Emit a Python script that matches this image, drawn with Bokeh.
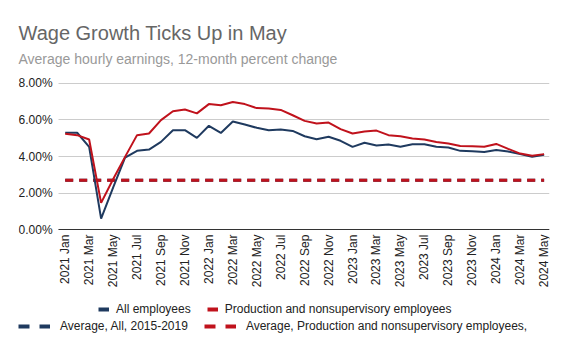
import math
from bokeh.plotting import figure
from bokeh.models import (ColumnDataSource, FixedTicker, PrintfTickFormatter,
                          Legend, LegendItem, Title, Range1d)
from bokeh.embed import file_html
from bokeh.resources import INLINE

months = ["2021 Jan", "2021 Feb", "2021 Mar", "2021 Apr", "2021 May", "2021 Jun",
          "2021 Jul", "2021 Aug", "2021 Sep", "2021 Oct", "2021 Nov", "2021 Dec",
          "2022 Jan", "2022 Feb", "2022 Mar", "2022 Apr", "2022 May", "2022 Jun",
          "2022 Jul", "2022 Aug", "2022 Sep", "2022 Oct", "2022 Nov", "2022 Dec",
          "2023 Jan", "2023 Feb", "2023 Mar", "2023 Apr", "2023 May", "2023 Jun",
          "2023 Jul", "2023 Aug", "2023 Sep", "2023 Oct", "2023 Nov", "2023 Dec",
          "2024 Jan", "2024 Feb", "2024 Mar", "2024 Apr", "2024 May"]

all_employees = [5.30, 5.30, 4.53, 0.60, 2.30, 3.94, 4.31, 4.38, 4.80, 5.44,
                 5.44, 5.02, 5.68, 5.29, 5.92, 5.75, 5.57, 5.44, 5.48, 5.40,
                 5.11, 4.95, 5.08, 4.86, 4.53, 4.75, 4.60, 4.66, 4.53, 4.67,
                 4.67, 4.53, 4.49, 4.31, 4.29, 4.25, 4.36, 4.27, 4.13, 3.98,
                 4.09]

production = [5.24, 5.17, 4.93, 1.46, 2.75, 3.98, 5.17, 5.26, 5.99, 6.48,
              6.57, 6.36, 6.87, 6.81, 6.98, 6.87, 6.65, 6.63, 6.55, 6.26,
              5.95, 5.81, 5.86, 5.50, 5.26, 5.37, 5.42, 5.17, 5.11, 4.99,
              4.93, 4.80, 4.71, 4.58, 4.56, 4.53, 4.69, 4.42, 4.16, 4.04,
              4.13]

avg_all_2015_2019 = 2.70
avg_prod_2015_2019 = 2.70

y_ticks = [0, 2, 4, 6, 8]

BLUE = "#1f3a5f"
RED = "#c0121c"
FONT = "Liberation Sans"

X0, X1 = -0.55, 40.45          # extent of the chart area along x
idx = list(range(len(months)))
src = ColumnDataSource(dict(
    x=idx,
    all=all_employees,
    prod=production,
    avg_all=[avg_all_2015_2019] * len(idx),
    avg_prod=[avg_prod_2015_2019] * len(idx),
))

# frame spans the whole lower area so legends (inside frame) are not clipped;
# the axes are drawn at fixed locations
p = figure(width=567, height=350, output_backend="svg", toolbar_location=None,
           x_range=Range1d(-3.9, X1), y_range=Range1d(-6.46, 8.71),
           min_border_left=18, min_border_right=18, min_border_top=70,
           min_border_bottom=3)
p.outline_line_color = None
p.background_fill_color = "white"
p.border_fill_color = "white"

# grid
p.xgrid.visible = False
grid = p.ygrid[0]
if "cross_bounds" in grid.properties():
    grid.cross_bounds = (X0, X1)
    grid.grid_line_color = "#cccccc"
    grid.grid_line_width = 1
else:
    grid.visible = False
    p.segment(x0=[X0] * len(y_ticks), x1=[X1] * len(y_ticks), y0=y_ticks, y1=y_ticks,
              line_color="#cccccc", line_width=1, level="underlay")

# y axis
p.yaxis.fixed_location = X0
p.yaxis.ticker = FixedTicker(ticks=y_ticks)
p.yaxis.formatter = PrintfTickFormatter(format="%.2f%%")
p.yaxis.axis_line_color = None
p.yaxis.major_tick_line_color = None
p.yaxis.minor_tick_line_color = None
p.yaxis.major_tick_out = 0
p.yaxis.major_tick_in = 0
p.yaxis.major_label_standoff = 6
p.yaxis.major_label_text_font = FONT
p.yaxis.major_label_text_font_size = "12px"
p.yaxis.major_label_text_color = "#222222"

# x axis
p.xaxis.fixed_location = 0
p.xaxis.bounds = (X0, X1)
p.xaxis.ticker = FixedTicker(ticks=idx[::2])
p.xaxis.major_label_overrides = {i: months[i] for i in idx[::2]}
p.xaxis.major_label_orientation = math.pi / 2
p.xaxis.axis_line_color = "#333333"
p.xaxis.axis_line_width = 1
p.xaxis.major_tick_line_color = None
p.xaxis.minor_tick_line_color = None
p.xaxis.major_tick_out = 0
p.xaxis.major_tick_in = 0
p.xaxis.major_label_standoff = 5
p.xaxis.major_label_text_font = FONT
p.xaxis.major_label_text_font_size = "12px"
p.xaxis.major_label_text_color = "#222222"

# lines
p.line("x", "avg_all", source=src, line_color=BLUE, line_width=3, line_dash="8 6")
p.line("x", "avg_prod", source=src, line_color=RED, line_width=3, line_dash="8 6")
p.line("x", "all", source=src, line_color=BLUE, line_width=2)
p.line("x", "prod", source=src, line_color=RED, line_width=2)

# legend proxy renderers (single point -> nothing drawn in the plot)
one = ColumnDataSource(dict(x=[0], y=[all_employees[0]]))
l1 = p.line("x", "y", source=one, line_color=BLUE, line_width=4)
l2 = p.line("x", "y", source=one, line_color=RED, line_width=4)
l3 = p.line("x", "y", source=one, line_color=BLUE, line_width=4, line_dash="11 10")
l4 = p.line("x", "y", source=one, line_color=RED, line_width=4, line_dash="11 10")

def style_legend(lg, gw, so):
    lg.orientation = "horizontal"
    lg.border_line_color = None
    lg.background_fill_alpha = 0
    lg.label_text_font = FONT
    lg.label_text_font_size = "12px"
    lg.label_text_color = "#222222"
    lg.glyph_width = gw
    lg.glyph_height = 14
    lg.label_height = 14
    lg.label_standoff = so
    lg.spacing = 16
    lg.padding = 0
    lg.margin = 0

leg1 = Legend(items=[LegendItem(label="All employees", renderers=[l1]),
                     LegendItem(label="Production and nonsupervisory employees", renderers=[l2])])
style_legend(leg1, 11, 7)
leg1.location = (80, 31)
leg2 = Legend(items=[LegendItem(label="Average, All, 2015-2019", renderers=[l3]),
                     LegendItem(label="Average, Production and nonsupervisory employees,", renderers=[l4])])
style_legend(leg2, 32, 10)
leg2.location = (0, 14)

p.add_layout(leg1, "center")
p.add_layout(leg2, "center")

# titles (first added is closest to the plot)
sub = Title(text="Average hourly earnings, 12-month percent change", align="left",
            text_font=FONT, text_font_size="14px", text_font_style="normal",
            text_color="#999999", offset=0, standoff=8)
ttl = Title(text="Wage Growth Ticks Up in May", align="left",
            text_font=FONT, text_font_size="20px", text_font_style="normal",
            text_color="#666666", offset=0, standoff=1)
p.add_layout(sub, "above")
p.add_layout(ttl, "above")

open("out.html", "w").write(file_html(p, INLINE))
